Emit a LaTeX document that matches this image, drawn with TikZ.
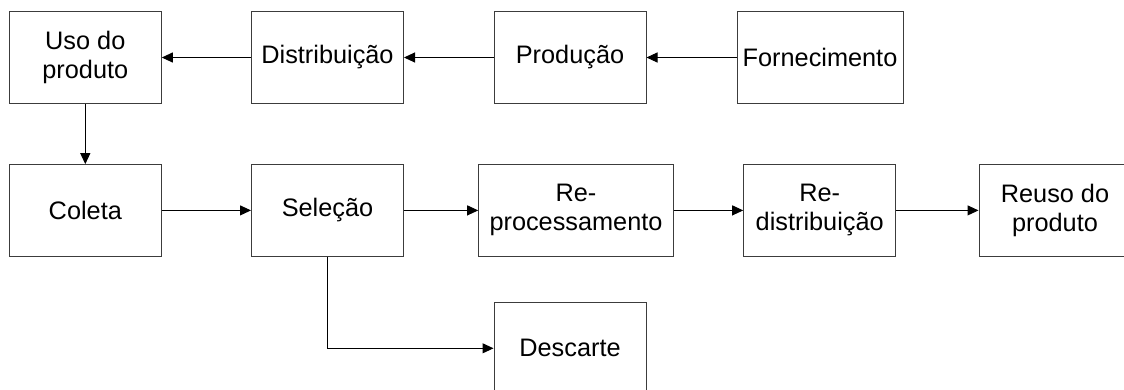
\documentclass[tikz,border=0pt]{standalone}
\usepackage{fontspec}
\setmainfont{Liberation Sans}
\usetikzlibrary{arrows.meta}

\tikzset{every picture/.style={line width=1pt}}
\tikzset{
  etapa/.style={draw, color={rgb,255:red,60;green,60;blue,60}, text=black, inner sep=0pt,
    minimum width=152pt, minimum height=91.5pt, align=center,
    font=\fontsize{25.3}{29}\selectfont},
  fluxo/.style={draw=black, -{Triangle[length=11pt,width=10pt]}}
}

\begin{document}
\begin{tikzpicture}[x=1pt,y=1pt,yscale=-1,xscale=1]
		\useasboundingbox (0,0) rectangle (1124,389);
		
		% Top row
		\node[etapa] (uso) at (85.3,57.5) {Uso do\\produto};
		\node[etapa] (distrib) at (327.5,57.5) {Distribuição};
		\node[etapa] (producao) at (570,57.5) {Produção};
		\node[etapa, minimum width=166pt] (fornec) at (820,57.5) {Fornecimento};
		
		% Bottom row
		\node[etapa] (coleta) at (85.3,210.4) {Coleta};
		\node[etapa] (selecao) at (327.5,210.4) {Seleção};
		\node[etapa, minimum width=194.6pt] (reproc) at (576,210.4) {Re-\\processamento};
		\node[etapa] (redistrib) at (819.7,210.4) {Re-\\distribuição};
		\node[etapa] (reuso) at (1055,210.4) {Reuso do\\produto};
		\node[etapa] (descarte) at (570,348.3) {Descarte};
		
		% Connectors
		\draw[fluxo] (fornec) -- (producao);
		\draw[fluxo] (producao) -- (distrib);
		\draw[fluxo] (distrib) -- (uso);
		\draw[fluxo] (uso) -- (coleta);
		\draw[fluxo] (coleta) -- (selecao);
		\draw[fluxo] (selecao) -- (reproc);
		\draw[fluxo] (reproc) -- (redistrib);
		\draw[fluxo] (redistrib) -- (reuso);
		\draw[fluxo] (selecao.south) |- (descarte.west);
		
\end{tikzpicture}
\end{document}
